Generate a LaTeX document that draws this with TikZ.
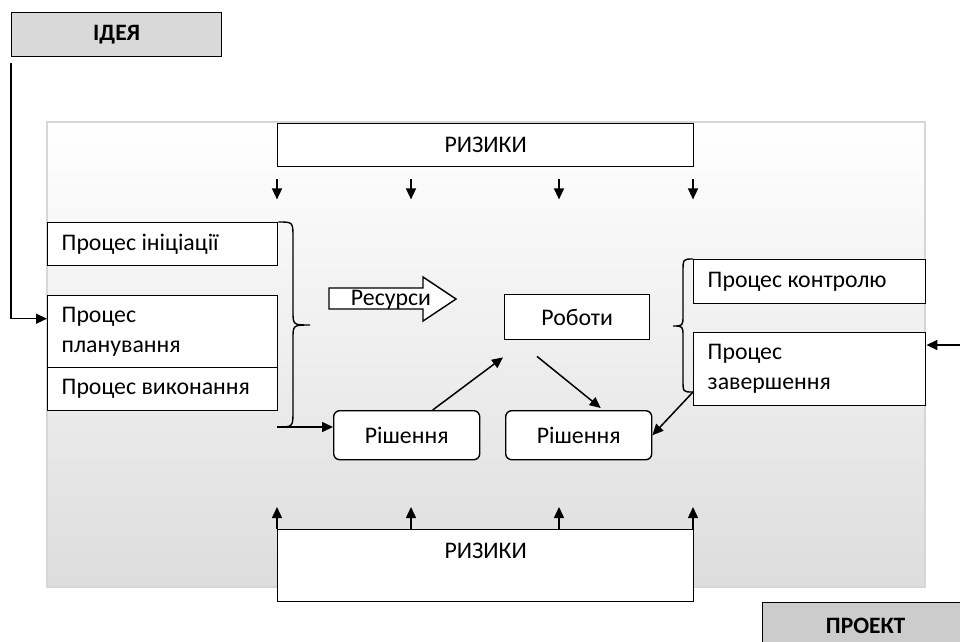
\documentclass[tikz,border=0pt]{standalone}
\usepackage{fontspec}
\setmainfont{Carlito}
\usepackage{tikz}
\usetikzlibrary{arrows.meta,positioning,calc}
\definecolor{bggray}{RGB}{221,221,221}
\definecolor{bgline}{RGB}{214,214,214}
\definecolor{tagfill}{RGB}{217,217,217}
\definecolor{tagfilltwo}{RGB}{204,204,204}

\begin{document}
\begin{tikzpicture}[y=-1pt,x=1pt,
	every node/.style={font=\fontsize{23.8}{30}\selectfont, inner sep=0pt},
	box/.style={draw, line width=1.4pt, fill=white, minimum height=#1},
	box/.default=44pt,
	proc/.style={box=#1, minimum width=230pt, text width=202pt, align=flush left, inner xsep=14pt},
	proc/.default=43pt,
	sol/.style={box=49pt, rounded corners=6pt, minimum width=146pt},
	tag/.style={draw, line width=1.3pt, font=\fontsize{23.5}{28}\selectfont\bfseries},
	arr/.style={line width=1.5pt, -{Triangle[length=11pt,width=10pt]}}]
	\useasboundingbox (0,0) rectangle (960,641);

	% background
	\shade[top color=white, bottom color=bggray] (47,122) rectangle (925,587);
	\draw[bgline, line width=2pt] (47,122) rectangle (925,587);

	\node[tag, fill=tagfill, minimum width=210pt, minimum height=44pt, anchor=north west] (idea) at (11,12) {ІДЕЯ};
	\node[tag, fill=tagfilltwo, minimum width=206pt, minimum height=46pt, anchor=north west] (proj) at (762,602) {ПРОЕКТ};

	\node[box=43pt, minimum width=416pt, anchor=north west] (riskt) at (277,123) {РИЗИКИ};
	\node[box=72pt, minimum width=416pt, anchor=north west, align=center] (riskb) at (277,529) {РИЗИКИ\\\mbox{}};

	\node[proc, anchor=north west] (init) at (47,222) {Процес ініціації};
	\node[proc=72pt, anchor=north west] (plan) at (47,295) {Процес\\планування};
	\node[proc, anchor=north west] (exec) at (47,367) {Процес виконання};

	\node[proc=44pt, minimum width=232pt, text width=204pt, anchor=north west] (ctrl) at (693,259) {Процес контролю};
	\node[proc=73pt, minimum width=232pt, text width=204pt, anchor=north west] (fin) at (693,332) {Процес\\завершення};

	\node[box=45pt, minimum width=145pt, anchor=north west] (work) at (504,294) {Роботи};
	\node[sol, anchor=north west] (sol1) at (333,410) {Рішення};
	\node[sol, anchor=north west] (sol2) at (505,410) {Рішення};

	% resources arrow
	\draw[line width=1.4pt, fill=white] (329,288) -- (423,288) -- (423,277) -- (456,299)
		-- (423,321) -- (423,309) -- (329,309) -- cycle;
	\node (res) at (391,300) {Ресурси};

	% braces
	\draw[line width=1.4pt] (init.north east) .. controls (293,222) .. (293,238) -- (293,311)
		.. controls (293,325) .. (310,325) .. controls (293,325) .. (293,339) -- (293,411)
		.. controls (293,427) .. (277,427) coordinate (bracel);
	\draw[line width=1.4pt] (ctrl.north west) .. controls (683,259) .. (683,272) -- (683,315)
		.. controls (683,326) .. (673,326) .. controls (683,326) .. (683,337) -- (683,380)
		.. controls (683,392) .. (693,392) coordinate (bracer);

	% risks
	\foreach \dx in {0,134,282,416}
		\draw[arr] ($(riskt.south west)+(\dx,12)$) -- ++(0,20);
	\foreach \dx in {0,134,282,416}
		\draw[arr] ($(riskb.north west)+(\dx,0)$) -- ++(0,-22);

	% connectors
	\draw[arr] ([yshift=-6pt]idea.south west) |- ([yshift=13pt]plan.west);
	\coordinate (inright) at (960,345);
	\draw[arr] (inright) -- (inright -| fin.east);
	\draw[arr] (bracel) -- (bracel -| sol1.west);
	\draw[arr] ([xshift=26pt]sol1.north) -- ([shift={(-1pt,-17pt)}]work.south west);
	\draw[arr] ([shift={(33pt,-16pt)}]work.south west) -- ([shift={(22pt,2pt)}]sol2.north);
	\draw[arr] (bracer) -- (sol2.east);
\end{tikzpicture}
\end{document}
